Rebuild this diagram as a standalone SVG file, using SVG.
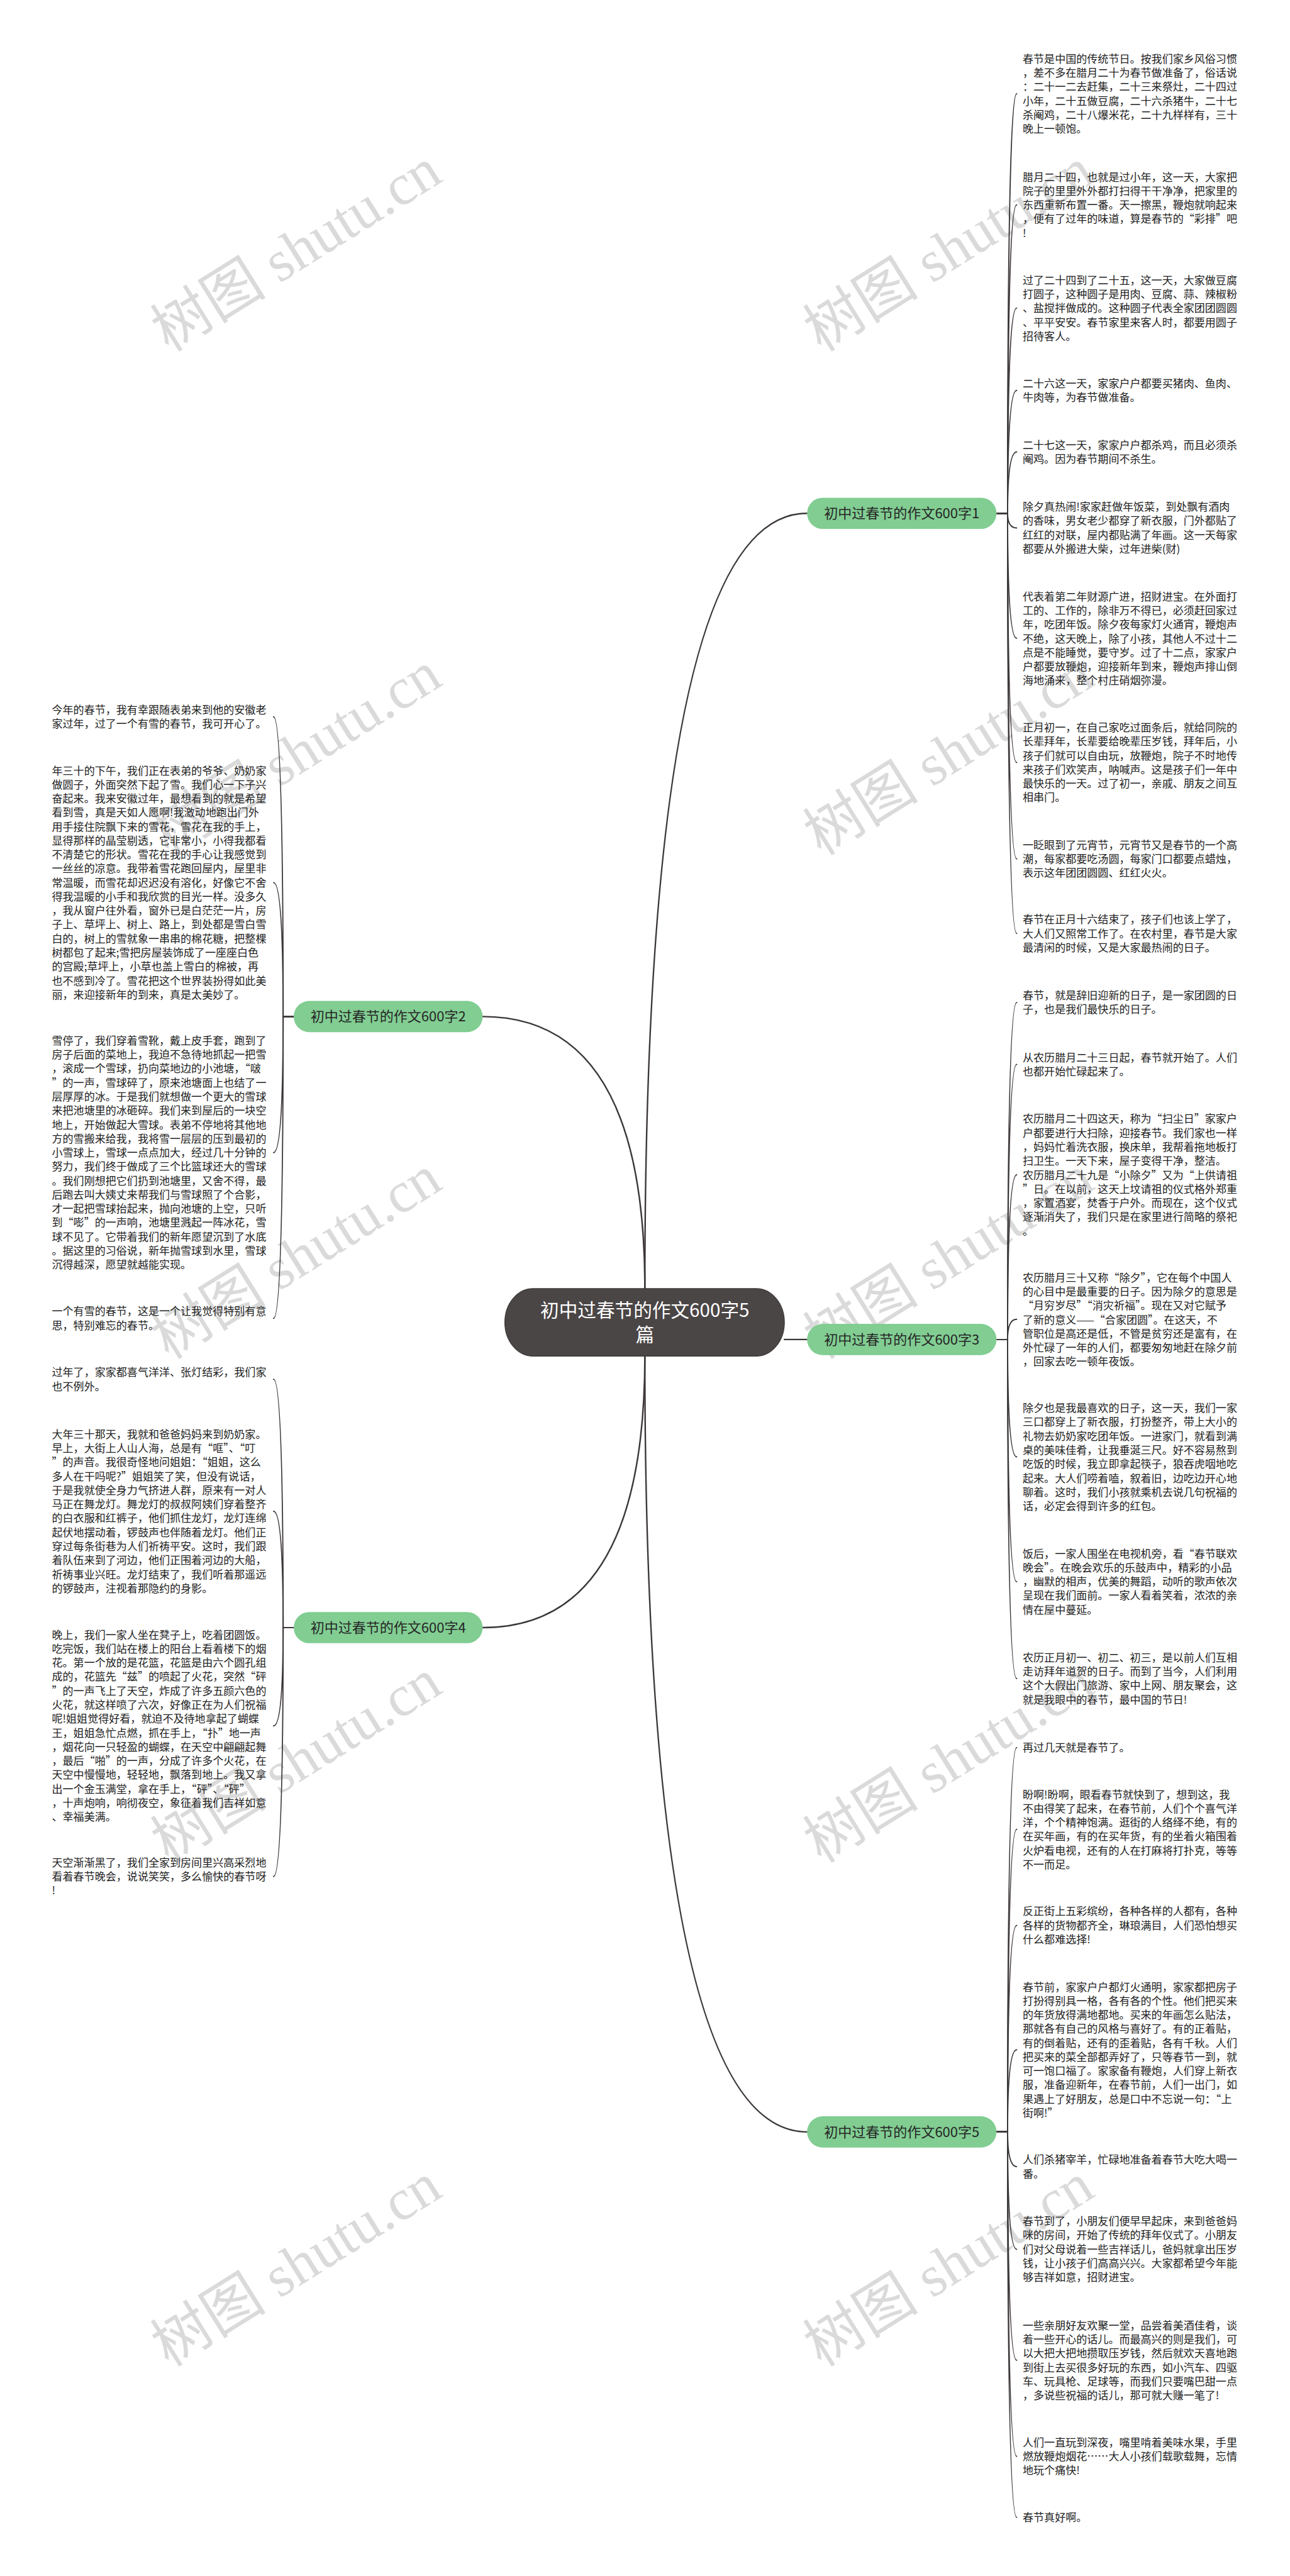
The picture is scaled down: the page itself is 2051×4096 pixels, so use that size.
<svg xmlns="http://www.w3.org/2000/svg" width="2051" height="4096" viewBox="0 0 2051 4096">
<defs>
<style>
.t{font-family:"Noto Sans CJK SC","Noto Sans",sans-serif;font-size:21.3px;fill:#222222;}
.nt{font-family:"Noto Sans CJK SC","Noto Sans",sans-serif;font-size:27.5px;fill:#262626;text-anchor:middle;}
.rt{font-family:"Noto Sans CJK SC","Noto Sans",sans-serif;font-size:37px;fill:#ffffff;text-anchor:middle;}
.gn{fill:#81cd92;}
.c{fill:none;stroke:#3d3838;stroke-width:3;stroke-linecap:round;}
.lc{fill:none;stroke:#3d3838;stroke-width:2.4;stroke-linecap:round;}
.wm{font-family:"Liberation Serif","Noto Sans CJK SC",serif;font-size:115px;fill:#d2d2d2;opacity:0.8;}
</style>
</defs>
<rect x="0" y="0" width="2051" height="4096" fill="#ffffff"/>
<g transform="scale(0.801)">
<g id="watermarks">
<text class="wm" transform="translate(335,700) rotate(-32)">树图 shutu.cn</text>
<text class="wm" transform="translate(1630,700) rotate(-32)">树图 shutu.cn</text>
<text class="wm" transform="translate(335,1700) rotate(-32)">树图 shutu.cn</text>
<text class="wm" transform="translate(1630,1700) rotate(-32)">树图 shutu.cn</text>
<text class="wm" transform="translate(335,2700) rotate(-32)">树图 shutu.cn</text>
<text class="wm" transform="translate(1630,2700) rotate(-32)">树图 shutu.cn</text>
<text class="wm" transform="translate(335,3700) rotate(-32)">树图 shutu.cn</text>
<text class="wm" transform="translate(1630,3700) rotate(-32)">树图 shutu.cn</text>
<text class="wm" transform="translate(335,4700) rotate(-32)">树图 shutu.cn</text>
<text class="wm" transform="translate(1630,4700) rotate(-32)">树图 shutu.cn</text>
</g>
<g id="connectors">
<path class="c" d="M1280,2558 Q1280,1019 1602,1019"/>
<path class="c" d="M1280,2558 Q1280,2018 958,2018"/>
<path class="c" d="M1557,2659 L1602,2659"/>
<path class="c" d="M1280,2692 Q1280,3231 958,3231"/>
<path class="c" d="M1280,2692 Q1280,4232 1602,4232"/>
<path class="lc" d="M1978,1019 L2000,1019 Q2000,186 2018,186"/>
<path class="lc" d="M1978,1019 L2000,1019 Q2000,406.6 2018,406.6"/>
<path class="lc" d="M1978,1019 L2000,1019 Q2000,611.6 2018,611.6"/>
<path class="lc" d="M1978,1019 L2000,1019 Q2000,775 2018,775"/>
<path class="lc" d="M1978,1019 L2000,1019 Q2000,897 2018,897"/>
<path class="lc" d="M1978,1019 L2000,1019 Q2000,1048 2018,1048"/>
<path class="lc" d="M1978,1019 L2000,1019 Q2000,1267 2018,1267"/>
<path class="lc" d="M1978,1019 L2000,1019 Q2000,1513.5 2018,1513.5"/>
<path class="lc" d="M1978,1019 L2000,1019 Q2000,1705 2018,1705"/>
<path class="lc" d="M1978,1019 L2000,1019 Q2000,1853 2018,1853"/>
<path class="lc" d="M1978,2659 L2000,2659 Q2000,1990 2018,1990"/>
<path class="lc" d="M1978,2659 L2000,2659 Q2000,2113 2018,2113"/>
<path class="lc" d="M1978,2659 L2000,2659 Q2000,2332 2018,2332"/>
<path class="lc" d="M1978,2659 L2000,2659 Q2000,2619 2018,2619"/>
<path class="lc" d="M1978,2659 L2000,2659 Q2000,2892 2018,2892"/>
<path class="lc" d="M1978,2659 L2000,2659 Q2000,3140 2018,3140"/>
<path class="lc" d="M1978,2659 L2000,2659 Q2000,3332 2018,3332"/>
<path class="lc" d="M1978,4232 L2000,4232 Q2000,3469 2018,3469"/>
<path class="lc" d="M1978,4232 L2000,4232 Q2000,3631.5 2018,3631.5"/>
<path class="lc" d="M1978,4232 L2000,4232 Q2000,3822 2018,3822"/>
<path class="lc" d="M1978,4232 L2000,4232 Q2000,4069 2018,4069"/>
<path class="lc" d="M1978,4232 L2000,4232 Q2000,4301 2018,4301"/>
<path class="lc" d="M1978,4232 L2000,4232 Q2000,4465 2018,4465"/>
<path class="lc" d="M1978,4232 L2000,4232 Q2000,4685.5 2018,4685.5"/>
<path class="lc" d="M1978,4232 L2000,4232 Q2000,4876 2018,4876"/>
<path class="lc" d="M1978,4232 L2000,4232 Q2000,4997 2018,4997"/>
<path class="lc" d="M583,2018 L562,2018 Q562,1423 543,1423"/>
<path class="lc" d="M583,2018 L562,2018 Q562,1752 543,1752"/>
<path class="lc" d="M583,2018 L562,2018 Q562,2288 543,2288"/>
<path class="lc" d="M583,2018 L562,2018 Q562,2617 543,2617"/>
<path class="lc" d="M583,3231 L562,3231 Q562,2738 543,2738"/>
<path class="lc" d="M583,3231 L562,3231 Q562,3000 543,3000"/>
<path class="lc" d="M583,3231 L562,3231 Q562,3426 543,3426"/>
<path class="lc" d="M583,3231 L562,3231 Q562,3725 543,3725"/>
</g>
<g id="root">
<rect x="1002" y="2558" width="555" height="134" rx="56" ry="67" fill="#4b4646" stroke="#3a3535" stroke-width="1.5"/>
<text class="rt" x="1280" y="2614">初中过春节的作文600字5</text>
<text class="rt" x="1280" y="2663">篇</text>
</g>
<g id="n1"><rect class="gn" x="1602" y="988" width="376" height="62" rx="31"/><text class="nt" x="1790" y="1029">初中过春节的作文600字1</text></g>
<g id="n2"><rect class="gn" x="583" y="1987" width="375" height="62" rx="31"/><text class="nt" x="770.5" y="2028">初中过春节的作文600字2</text></g>
<g id="n3"><rect class="gn" x="1602" y="2628" width="376" height="62" rx="31"/><text class="nt" x="1790" y="2669">初中过春节的作文600字3</text></g>
<g id="n4"><rect class="gn" x="583" y="3200" width="375" height="62" rx="31"/><text class="nt" x="770.5" y="3241">初中过春节的作文600字4</text></g>
<g id="n5"><rect class="gn" x="1602" y="4201" width="376" height="62" rx="31"/><text class="nt" x="1790" y="4242">初中过春节的作文600字5</text></g>

<g id="r1"><text class="t" x="2030" y="124.5"><tspan x="2030">春节是中国的传统节日。按我们家乡风俗习惯</tspan><tspan x="2030" dy="27.8">，差不多在腊月二十为春节做准备了，俗话说</tspan><tspan x="2030" dy="27.8">：二十一二去赶集，二十三来祭灶，二十四过</tspan><tspan x="2030" dy="27.8">小年，二十五做豆腐，二十六杀猪牛，二十七</tspan><tspan x="2030" dy="27.8">杀阉鸡，二十八爆米花，二十九样样有，三十</tspan><tspan x="2030" dy="27.8">晚上一顿饱。</tspan></text></g>
<g id="r2"><text class="t" x="2030" y="359"><tspan x="2030">腊月二十四，也就是过小年，这一天，大家把</tspan><tspan x="2030" dy="27.8">院子的里里外外都打扫得干干净净，把家里的</tspan><tspan x="2030" dy="27.8">东西重新布置一番。天一擦黑，鞭炮就响起来</tspan><tspan x="2030" dy="27.8">，便有了过年的味道，算是春节的“彩排”吧</tspan><tspan x="2030" dy="27.8">!</tspan></text></g>
<g id="r3"><text class="t" x="2030" y="564"><tspan x="2030">过了二十四到了二十五，这一天，大家做豆腐</tspan><tspan x="2030" dy="27.8">打圆子，这种圆子是用肉、豆腐、蒜、辣椒粉</tspan><tspan x="2030" dy="27.8">、盐搅拌做成的。这种圆子代表全家团团圆圆</tspan><tspan x="2030" dy="27.8">、平平安安。春节家里来客人时，都要用圆子</tspan><tspan x="2030" dy="27.8">招待客人。</tspan></text></g>
<g id="r4"><text class="t" x="2030" y="769"><tspan x="2030">二十六这一天，家家户户都要买猪肉、鱼肉、</tspan><tspan x="2030" dy="27.8">牛肉等，为春节做准备。</tspan></text></g>
<g id="r5"><text class="t" x="2030" y="891"><tspan x="2030">二十七这一天，家家户户都杀鸡，而且必须杀</tspan><tspan x="2030" dy="27.8">阉鸡。因为春节期间不杀生。</tspan></text></g>
<g id="r6"><text class="t" x="2030" y="1014"><tspan x="2030">除夕真热闹!家家赶做年饭菜，到处飘有酒肉</tspan><tspan x="2030" dy="27.8">的香味，男女老少都穿了新衣服，门外都贴了</tspan><tspan x="2030" dy="27.8">红红的对联，屋内都贴满了年画。这一天每家</tspan><tspan x="2030" dy="27.8">都要从外搬进大柴，过年进柴(财)</tspan></text></g>
<g id="r7"><text class="t" x="2030" y="1192"><tspan x="2030">代表着第二年财源广进，招财进宝。在外面打</tspan><tspan x="2030" dy="27.8">工的、工作的，除非万不得已，必须赶回家过</tspan><tspan x="2030" dy="27.8">年，吃团年饭。除夕夜每家灯火通宵，鞭炮声</tspan><tspan x="2030" dy="27.8">不绝，这天晚上，除了小孩，其他人不过十二</tspan><tspan x="2030" dy="27.8">点是不能睡觉，要守岁。过了十二点，家家户</tspan><tspan x="2030" dy="27.8">户都要放鞭炮，迎接新年到来，鞭炮声排山倒</tspan><tspan x="2030" dy="27.8">海地涌来，整个村庄硝烟弥漫。</tspan></text></g>
<g id="r8"><text class="t" x="2030" y="1452"><tspan x="2030">正月初一，在自己家吃过面条后，就给同院的</tspan><tspan x="2030" dy="27.8">长辈拜年，长辈要给晚辈压岁钱，拜年后，小</tspan><tspan x="2030" dy="27.8">孩子们就可以自由玩，放鞭炮，院子不时地传</tspan><tspan x="2030" dy="27.8">来孩子们欢笑声，呐喊声。这是孩子们一年中</tspan><tspan x="2030" dy="27.8">最快乐的一天。过了初一，亲戚、朋友之间互</tspan><tspan x="2030" dy="27.8">相串门。</tspan></text></g>
<g id="r9"><text class="t" x="2030" y="1685"><tspan x="2030">一眨眼到了元宵节，元宵节又是春节的一个高</tspan><tspan x="2030" dy="27.8">潮，每家都要吃汤圆，每家门口都要点蜡烛，</tspan><tspan x="2030" dy="27.8">表示这年团团圆圆、红红火火。</tspan></text></g>
<g id="r10"><text class="t" x="2030" y="1833"><tspan x="2030">春节在正月十六结束了，孩子们也该上学了，</tspan><tspan x="2030" dy="27.8">大人们又照常工作了。在农村里，春节是大家</tspan><tspan x="2030" dy="27.8">最清闲的时候，又是大家最热闹的日子。</tspan></text></g>
<g id="r11"><text class="t" x="2030" y="1984"><tspan x="2030">春节，就是辞旧迎新的日子，是一家团圆的日</tspan><tspan x="2030" dy="27.8">子，也是我们最快乐的日子。</tspan></text></g>
<g id="r12"><text class="t" x="2030" y="2107"><tspan x="2030">从农历腊月二十三日起，春节就开始了。人们</tspan><tspan x="2030" dy="27.8">也都开始忙碌起来了。</tspan></text></g>
<g id="r13"><text class="t" x="2030" y="2229"><tspan x="2030">农历腊月二十四这天，称为“扫尘日”家家户</tspan><tspan x="2030" dy="27.8">户都要进行大扫除，迎接春节。我们家也一样</tspan><tspan x="2030" dy="27.8">，妈妈忙着洗衣服，换床单，我帮着拖地板打</tspan><tspan x="2030" dy="27.8">扫卫生。一天下来，屋子变得干净，整洁。</tspan><tspan x="2030" dy="27.8">农历腊月二十九是“小除夕”又为“上供请祖</tspan><tspan x="2030" dy="27.8">”日。在以前，这天上坟请祖的仪式格外郑重</tspan><tspan x="2030" dy="27.8">，家置酒宴，焚香于户外。而现在，这个仪式</tspan><tspan x="2030" dy="27.8">逐渐消失了，我们只是在家里进行简略的祭祀</tspan><tspan x="2030" dy="27.8">。</tspan></text></g>
<g id="r14"><text class="t" x="2030" y="2544"><tspan x="2030">农历腊月三十又称“除夕”，它在每个中国人</tspan><tspan x="2030" dy="27.8">的心目中是最重要的日子。因为除夕的意思是</tspan><tspan x="2030" dy="27.8">“月穷岁尽”“消灾祈福”。现在又对它赋予</tspan><tspan x="2030" dy="27.8">了新的意义——“合家团圆”。在这天，不</tspan><tspan x="2030" dy="27.8">管职位是高还是低，不管是贫穷还是富有，在</tspan><tspan x="2030" dy="27.8">外忙碌了一年的人们，都要匆匆地赶在除夕前</tspan><tspan x="2030" dy="27.8">，回家去吃一顿年夜饭。</tspan></text></g>
<g id="r15"><text class="t" x="2030" y="2803"><tspan x="2030">除夕也是我最喜欢的日子，这一天，我们一家</tspan><tspan x="2030" dy="27.8">三口都穿上了新衣服，打扮整齐，带上大小的</tspan><tspan x="2030" dy="27.8">礼物去奶奶家吃团年饭。一进家门，就看到满</tspan><tspan x="2030" dy="27.8">桌的美味佳肴，让我垂涎三尺。好不容易熬到</tspan><tspan x="2030" dy="27.8">吃饭的时候，我立即拿起筷子，狼吞虎咽地吃</tspan><tspan x="2030" dy="27.8">起来。大人们唠着嗑，叙着旧，边吃边开心地</tspan><tspan x="2030" dy="27.8">聊着。这时，我们小孩就乘机去说几句祝福的</tspan><tspan x="2030" dy="27.8">话，必定会得到许多的红包。</tspan></text></g>
<g id="r16"><text class="t" x="2030" y="3092"><tspan x="2030">饭后，一家人围坐在电视机旁，看“春节联欢</tspan><tspan x="2030" dy="27.8">晚会”。在晚会欢乐的乐鼓声中，精彩的小品</tspan><tspan x="2030" dy="27.8">，幽默的相声，优美的舞蹈，动听的歌声依次</tspan><tspan x="2030" dy="27.8">呈现在我们面前。一家人看着笑着，浓浓的亲</tspan><tspan x="2030" dy="27.8">情在屋中蔓延。</tspan></text></g>
<g id="r17"><text class="t" x="2030" y="3298"><tspan x="2030">农历正月初一、初二、初三，是以前人们互相</tspan><tspan x="2030" dy="27.8">走访拜年道贺的日子。而到了当今，人们利用</tspan><tspan x="2030" dy="27.8">这个大假出门旅游、家中上网、朋友聚会，这</tspan><tspan x="2030" dy="27.8">就是我眼中的春节，最中国的节日!</tspan></text></g>
<g id="r18"><text class="t" x="2030" y="3477">再过几天就是春节了。</text></g>
<g id="r19"><text class="t" x="2030" y="3570"><tspan x="2030">盼啊!盼啊，眼看春节就快到了，想到这，我</tspan><tspan x="2030" dy="27.8">不由得笑了起来，在春节前，人们个个喜气洋</tspan><tspan x="2030" dy="27.8">洋，个个精神饱满。逛街的人络绎不绝，有的</tspan><tspan x="2030" dy="27.8">在买年画，有的在买年货，有的坐着火箱围着</tspan><tspan x="2030" dy="27.8">火炉看电视，还有的人在打麻将打扑克，等等</tspan><tspan x="2030" dy="27.8">不一而足。</tspan></text></g>
<g id="r20"><text class="t" x="2030" y="3802"><tspan x="2030">反正街上五彩缤纷，各种各样的人都有，各种</tspan><tspan x="2030" dy="27.8">各样的货物都齐全，琳琅满目，人们恐怕想买</tspan><tspan x="2030" dy="27.8">什么都难选择!</tspan></text></g>
<g id="r21"><text class="t" x="2030" y="3952"><tspan x="2030">春节前，家家户户都灯火通明，家家都把房子</tspan><tspan x="2030" dy="27.8">打扮得别具一格，各有各的个性。他们把买来</tspan><tspan x="2030" dy="27.8">的年货放得满地都地。买来的年画怎么贴法，</tspan><tspan x="2030" dy="27.8">那就各有自己的风格与喜好了。有的正着贴，</tspan><tspan x="2030" dy="27.8">有的倒着贴，还有的歪着贴，各有千秋。人们</tspan><tspan x="2030" dy="27.8">把买来的菜全部都弄好了，只等春节一到，就</tspan><tspan x="2030" dy="27.8">可一饱口福了。家家备有鞭炮，人们穿上新衣</tspan><tspan x="2030" dy="27.8">服，准备迎新年，在春节前，人们一出门，如</tspan><tspan x="2030" dy="27.8">果遇上了好朋友，总是口中不忘说一句：“上</tspan><tspan x="2030" dy="27.8">街啊!”</tspan></text></g>
<g id="r22"><text class="t" x="2030" y="4295"><tspan x="2030">人们杀猪宰羊，忙碌地准备着春节大吃大喝一</tspan><tspan x="2030" dy="27.8">番。</tspan></text></g>
<g id="r23"><text class="t" x="2030" y="4417"><tspan x="2030">春节到了，小朋友们便早早起床，来到爸爸妈</tspan><tspan x="2030" dy="27.8">咪的房间，开始了传统的拜年仪式了。小朋友</tspan><tspan x="2030" dy="27.8">们对父母说着一些吉祥话儿，爸妈就拿出压岁</tspan><tspan x="2030" dy="27.8">钱，让小孩子们高高兴兴。大家都希望今年能</tspan><tspan x="2030" dy="27.8">够吉祥如意，招财进宝。</tspan></text></g>
<g id="r24"><text class="t" x="2030" y="4624"><tspan x="2030">一些亲朋好友欢聚一堂，品尝着美酒佳肴，谈</tspan><tspan x="2030" dy="27.8">着一些开心的话儿。而最高兴的则是我们，可</tspan><tspan x="2030" dy="27.8">以大把大把地攒取压岁钱，然后就欢天喜地跑</tspan><tspan x="2030" dy="27.8">到街上去买很多好玩的东西，如小汽车、四驱</tspan><tspan x="2030" dy="27.8">车、玩具枪、足球等，而我们只要嘴巴甜一点</tspan><tspan x="2030" dy="27.8">，多说些祝福的话儿，那可就大赚一笔了!</tspan></text></g>
<g id="r25"><text class="t" x="2030" y="4856"><tspan x="2030">人们一直玩到深夜，嘴里啃着美味水果，手里</tspan><tspan x="2030" dy="27.8">燃放鞭炮烟花……大人小孩们载歌载舞，忘情</tspan><tspan x="2030" dy="27.8">地玩个痛快!</tspan></text></g>
<g id="r26"><text class="t" x="2030" y="5005">春节真好啊。</text></g>

<g id="l1"><text class="t" x="103" y="1417"><tspan x="103">今年的春节，我有幸跟随表弟来到他的安徽老</tspan><tspan x="103" dy="27.8">家过年，过了一个有雪的春节，我可开心了。</tspan></text></g>
<g id="l2"><text class="t" x="103" y="1537.5"><tspan x="103">年三十的下午，我们正在表弟的爷爷、奶奶家</tspan><tspan x="103" dy="27.8">做圆子，外面突然下起了雪。我们心一下子兴</tspan><tspan x="103" dy="27.8">奋起来。我来安徽过年，最想看到的就是希望</tspan><tspan x="103" dy="27.8">看到雪，真是天如人愿啊!我激动地跑出门外</tspan><tspan x="103" dy="27.8">用手接住院飘下来的雪花，雪花在我的手上，</tspan><tspan x="103" dy="27.8">显得那样的晶莹剔透，它非常小，小得我都看</tspan><tspan x="103" dy="27.8">不清楚它的形状。雪花在我的手心让我感觉到</tspan><tspan x="103" dy="27.8">一丝丝的凉意。我带着雪花跑回屋内，屋里非</tspan><tspan x="103" dy="27.8">常温暖，而雪花却迟迟没有溶化，好像它不舍</tspan><tspan x="103" dy="27.8">得我温暖的小手和我欣赏的目光一样。没多久</tspan><tspan x="103" dy="27.8">，我从窗户往外看，窗外已是白茫茫一片，房</tspan><tspan x="103" dy="27.8">子上、草坪上、树上、路上，到处都是雪白雪</tspan><tspan x="103" dy="27.8">白的，树上的雪就象一串串的棉花糖，把整棵</tspan><tspan x="103" dy="27.8">树都包了起来;雪把房屋装饰成了一座座白色</tspan><tspan x="103" dy="27.8">的宫殿;草坪上，小草也盖上雪白的棉被，再</tspan><tspan x="103" dy="27.8">也不感到冷了。雪花把这个世界装扮得如此美</tspan><tspan x="103" dy="27.8">丽，来迎接新年的到来，真是太美妙了。</tspan></text></g>
<g id="l3"><text class="t" x="103" y="2073.6"><tspan x="103">雪停了，我们穿着雪靴，戴上皮手套，跑到了</tspan><tspan x="103" dy="27.8">房子后面的菜地上，我迫不急待地抓起一把雪</tspan><tspan x="103" dy="27.8">，滚成一个雪球，扔向菜地边的小池塘，“啵</tspan><tspan x="103" dy="27.8">”的一声，雪球碎了，原来池塘面上也结了一</tspan><tspan x="103" dy="27.8">层厚厚的冰。于是我们就想做一个更大的雪球</tspan><tspan x="103" dy="27.8">来把池塘里的冰砸碎。我们来到屋后的一块空</tspan><tspan x="103" dy="27.8">地上，开始做起大雪球。表弟不停地将其他地</tspan><tspan x="103" dy="27.8">方的雪搬来给我，我将雪一层层的压到最初的</tspan><tspan x="103" dy="27.8">小雪球上，雪球一点点加大，经过几十分钟的</tspan><tspan x="103" dy="27.8">努力，我们终于做成了三个比篮球还大的雪球</tspan><tspan x="103" dy="27.8">。我们刚想把它们扔到池塘里，又舍不得，最</tspan><tspan x="103" dy="27.8">后跑去叫大姨丈来帮我们与雪球照了个合影，</tspan><tspan x="103" dy="27.8">才一起把雪球抬起来，抛向池塘的上空，只听</tspan><tspan x="103" dy="27.8">到“嘭”的一声响，池塘里溅起一阵冰花，雪</tspan><tspan x="103" dy="27.8">球不见了。它带着我们的新年愿望沉到了水底</tspan><tspan x="103" dy="27.8">。据这里的习俗说，新年抛雪球到水里，雪球</tspan><tspan x="103" dy="27.8">沉得越深，愿望就越能实现。</tspan></text></g>
<g id="l4"><text class="t" x="103" y="2611"><tspan x="103">一个有雪的春节，这是一个让我觉得特别有意</tspan><tspan x="103" dy="27.8">思，特别难忘的春节。</tspan></text></g>
<g id="l5"><text class="t" x="103" y="2732"><tspan x="103">过年了，家家都喜气洋洋、张灯结彩，我们家</tspan><tspan x="103" dy="27.8">也不例外。</tspan></text></g>
<g id="l6"><text class="t" x="103" y="2855"><tspan x="103">大年三十那天，我就和爸爸妈妈来到奶奶家。</tspan><tspan x="103" dy="27.8">早上，大街上人山人海，总是有“哐”、“叮</tspan><tspan x="103" dy="27.8">”的声音。我很奇怪地问姐姐：“姐姐，这么</tspan><tspan x="103" dy="27.8">多人在干吗呢?”姐姐笑了笑，但没有说话，</tspan><tspan x="103" dy="27.8">于是我就使全身力气挤进人群，原来有一对人</tspan><tspan x="103" dy="27.8">马正在舞龙灯。舞龙灯的叔叔阿姨们穿着整齐</tspan><tspan x="103" dy="27.8">的白衣服和红裤子，他们抓住龙灯，龙灯连绵</tspan><tspan x="103" dy="27.8">起伏地摆动着，锣鼓声也伴随着龙灯。他们正</tspan><tspan x="103" dy="27.8">穿过每条街巷为人们祈祷平安。这时，我们跟</tspan><tspan x="103" dy="27.8">着队伍来到了河边，他们正围着河边的大船，</tspan><tspan x="103" dy="27.8">祈祷事业兴旺。龙灯结束了，我们听着那遥远</tspan><tspan x="103" dy="27.8">的锣鼓声，注视着那隐约的身影。</tspan></text></g>
<g id="l7"><text class="t" x="103" y="3253"><tspan x="103">晚上，我们一家人坐在凳子上，吃着团圆饭。</tspan><tspan x="103" dy="27.8">吃完饭，我们站在楼上的阳台上看着楼下的烟</tspan><tspan x="103" dy="27.8">花。第一个放的是花篮，花篮是由六个圆孔组</tspan><tspan x="103" dy="27.8">成的，花篮先“兹”的喷起了火花，突然“砰</tspan><tspan x="103" dy="27.8">”的一声飞上了天空，炸成了许多五颜六色的</tspan><tspan x="103" dy="27.8">火花，就这样喷了六次，好像正在为人们祝福</tspan><tspan x="103" dy="27.8">呢!姐姐觉得好看，就迫不及待地拿起了蝴蝶</tspan><tspan x="103" dy="27.8">王，姐姐急忙点燃，抓在手上，“扑”地一声</tspan><tspan x="103" dy="27.8">，烟花向一只轻盈的蝴蝶，在天空中翩翩起舞</tspan><tspan x="103" dy="27.8">，最后“啪”的一声，分成了许多个火花，在</tspan><tspan x="103" dy="27.8">天空中慢慢地，轻轻地，飘落到地上。我又拿</tspan><tspan x="103" dy="27.8">出一个金玉满堂，拿在手上，“砰”、“砰”</tspan><tspan x="103" dy="27.8">，十声炮响，响彻夜空，象征着我们吉祥如意</tspan><tspan x="103" dy="27.8">、幸福美满。</tspan></text></g>
<g id="l8"><text class="t" x="103" y="3705"><tspan x="103">天空渐渐黑了，我们全家到房间里兴高采烈地</tspan><tspan x="103" dy="27.8">看着春节晚会，说说笑笑，多么愉快的春节呀</tspan><tspan x="103" dy="27.8">!</tspan></text></g>
</g>
</svg>
